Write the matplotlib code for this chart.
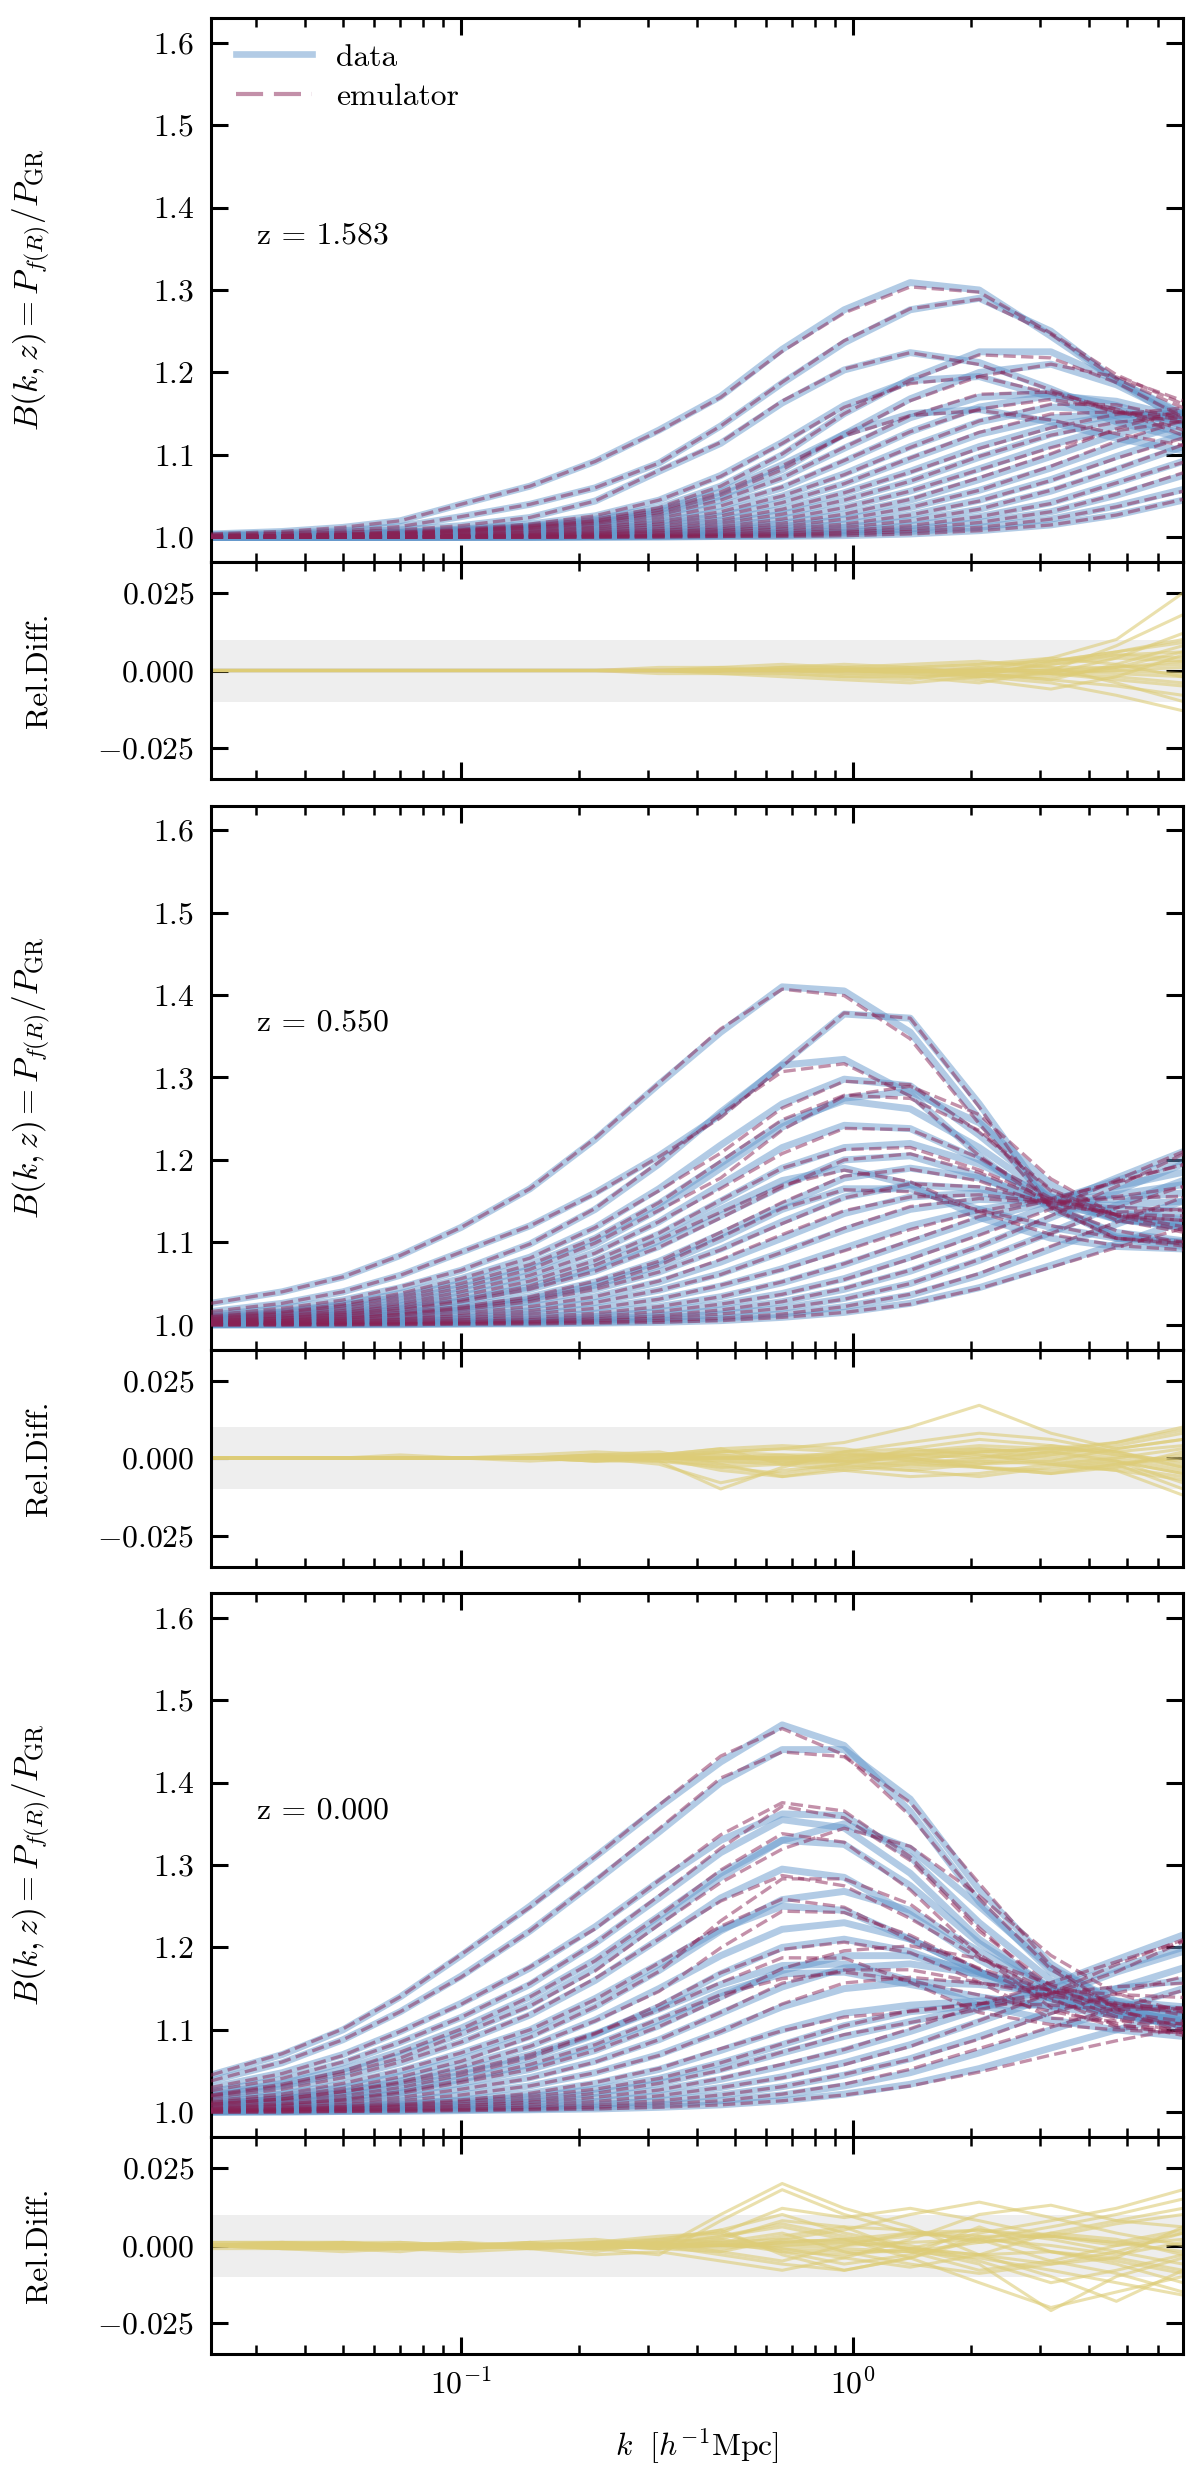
import numpy as np
import matplotlib
matplotlib.use('Agg')
import matplotlib.pyplot as plt
from matplotlib.lines import Line2D
from matplotlib.ticker import FixedLocator, FuncFormatter, NullLocator, NullFormatter, LogLocator

# ---------------- data ----------------
k = [0.023, 0.035, 0.05, 0.07, 0.1, 0.15, 0.22, 0.32, 0.46, 0.66, 0.95, 1.4, 2.1, 3.2, 4.7, 6.95]

redshift_labels = ['z = 1.583', 'z = 0.550', 'z = 0.000']

boost_z1583 = [
    [1.004, 1.007, 1.012, 1.020, 1.040, 1.062, 1.092, 1.130, 1.171, 1.228, 1.276, 1.309, 1.300, 1.244, 1.190, 1.150],
    [1.003, 1.005, 1.008, 1.013, 1.025, 1.040, 1.060, 1.090, 1.135, 1.187, 1.236, 1.276, 1.290, 1.250, 1.190, 1.148],
    [1.002, 1.004, 1.006, 1.009, 1.014, 1.024, 1.044, 1.080, 1.114, 1.163, 1.203, 1.224, 1.212, 1.180, 1.147, 1.126],
    [1.001, 1.002, 1.004, 1.006, 1.009, 1.014, 1.022, 1.036, 1.062, 1.100, 1.150, 1.192, 1.225, 1.225, 1.190, 1.140],
    [1.001, 1.002, 1.003, 1.005, 1.008, 1.012, 1.018, 1.030, 1.050, 1.082, 1.125, 1.168, 1.200, 1.210, 1.185, 1.145],
    [1.001, 1.002, 1.004, 1.006, 1.010, 1.016, 1.026, 1.045, 1.075, 1.115, 1.160, 1.190, 1.195, 1.170, 1.140, 1.120],
    [1.001, 1.002, 1.003, 1.004, 1.007, 1.011, 1.017, 1.027, 1.045, 1.072, 1.108, 1.145, 1.170, 1.175, 1.160, 1.135],
    [1.001, 1.001, 1.002, 1.004, 1.006, 1.009, 1.014, 1.023, 1.038, 1.060, 1.092, 1.128, 1.158, 1.172, 1.165, 1.145],
    [1.000, 1.001, 1.002, 1.003, 1.005, 1.008, 1.012, 1.019, 1.031, 1.050, 1.077, 1.110, 1.140, 1.158, 1.155, 1.140],
    [1.000, 1.001, 1.001, 1.002, 1.004, 1.006, 1.010, 1.016, 1.026, 1.042, 1.065, 1.095, 1.125, 1.145, 1.150, 1.145],
    [1.000, 1.000, 1.001, 1.002, 1.003, 1.005, 1.008, 1.013, 1.021, 1.034, 1.054, 1.080, 1.110, 1.135, 1.148, 1.150],
    [1.000, 1.000, 1.001, 1.001, 1.002, 1.004, 1.006, 1.010, 1.017, 1.028, 1.045, 1.068, 1.097, 1.125, 1.143, 1.152],
    [1.000, 1.000, 1.000, 1.001, 1.002, 1.003, 1.005, 1.008, 1.013, 1.022, 1.036, 1.056, 1.083, 1.112, 1.135, 1.150],
    [1.000, 1.000, 1.000, 1.001, 1.001, 1.002, 1.004, 1.006, 1.010, 1.017, 1.028, 1.045, 1.070, 1.098, 1.125, 1.145],
    [1.000, 1.000, 1.000, 1.000, 1.001, 1.002, 1.003, 1.005, 1.008, 1.013, 1.022, 1.036, 1.057, 1.084, 1.112, 1.138],
    [1.000, 1.000, 1.000, 1.000, 1.001, 1.001, 1.002, 1.003, 1.006, 1.010, 1.016, 1.027, 1.045, 1.070, 1.098, 1.125],
    [1.000, 1.000, 1.000, 1.000, 1.000, 1.001, 1.001, 1.002, 1.004, 1.007, 1.012, 1.020, 1.034, 1.056, 1.082, 1.110],
    [1.000, 1.000, 1.000, 1.000, 1.000, 1.000, 1.001, 1.002, 1.003, 1.005, 1.008, 1.014, 1.025, 1.042, 1.066, 1.092],
    [1.000, 1.000, 1.000, 1.000, 1.000, 1.000, 1.001, 1.001, 1.002, 1.003, 1.006, 1.010, 1.018, 1.031, 1.051, 1.075],
    [1.000, 1.000, 1.000, 1.000, 1.000, 1.000, 1.000, 1.001, 1.001, 1.002, 1.004, 1.007, 1.012, 1.022, 1.038, 1.058],
    [1.000, 1.000, 1.000, 1.000, 1.000, 1.000, 1.000, 1.000, 1.001, 1.001, 1.002, 1.004, 1.008, 1.015, 1.027, 1.045],
    [1.001, 1.002, 1.003, 1.005, 1.008, 1.013, 1.020, 1.033, 1.055, 1.088, 1.125, 1.150, 1.155, 1.140, 1.120, 1.105],
]

reldiff_z1583_permille = [
    [0, 0, 0, 0, 0, 0, 0, -1, -1, -2, -3, -4, -2, 3, 6, 10],
    [0, 0, 0, 0, 0, 0, 0, 0, 0, 1, 2, 1, -1, -3, 2, 8],
    [0, 0, 0, 0, 0, 0, 0, 1, 1, 2, 1, 0, -2, -1, 4, 12],
    [0, 0, 0, 0, 0, 0, 0, 0, 0, 1, 0, -1, -3, -6, -2, 5],
    [0, 0, 0, 0, 0, 0, 0, 0, 1, 0, -1, -2, -4, 0, 8, 18],
    [0, 0, 0, 0, 0, 0, 0, 0, -1, -1, -2, -3, 0, 4, 10, 25],
    [0, 0, 0, 0, 0, 0, 0, 0, 0, 0, 1, 2, 3, 1, -4, -10],
    [0, 0, 0, 0, 0, 0, 0, 0, 0, 1, 1, 0, -2, -4, -8, -13],
    [0, 0, 0, 0, 0, 0, 0, 0, 0, 0, -1, -1, 1, 3, 5, 4],
    [0, 0, 0, 0, 0, 0, 0, 0, 0, 0, 0, 1, 2, 4, 2, -2],
    [0, 0, 0, 0, 0, 0, 0, 0, 0, 0, 0, -1, -2, -2, 1, 6],
    [0, 0, 0, 0, 0, 0, 0, 0, 0, 0, 0, 0, 1, -1, -3, -5],
    [0, 0, 0, 0, 0, 0, 0, 0, 0, 0, 0, 0, -1, -3, -5, -8],
    [0, 0, 0, 0, 0, 0, 0, 0, 0, 0, 0, 1, 2, 3, 6, 9],
    [0, 0, 0, 0, 0, 0, 0, 0, 0, 0, 0, 0, 0, 2, 4, 3],
    [0, 0, 0, 0, 0, 0, 0, 0, 0, 0, 0, 0, -1, -1, -2, -4],
    [0, 0, 0, 0, 0, 0, 0, 0, 0, 0, 0, 0, 0, 1, 1, 2],
    [0, 0, 0, 0, 0, 0, 0, 0, 0, 0, 0, 0, 0, -1, 0, -1],
    [0, 0, 0, 0, 0, 0, 0, 0, 0, 0, 0, 0, 0, 0, 1, 3],
    [0, 0, 0, 0, 0, 0, 0, 0, 0, 0, 0, 0, 0, 0, -1, -2],
    [0, 0, 0, 0, 0, 0, 0, 0, 0, 0, 0, 0, 0, 0, 0, 1],
    [0, 0, 0, 0, 0, 0, 0, 0, 0, -1, -2, -2, -1, 2, 5, 6],
]

boost_z0550 = [
    [1.026, 1.040, 1.058, 1.084, 1.118, 1.165, 1.225, 1.292, 1.355, 1.410, 1.405, 1.355, 1.250, 1.145, 1.105, 1.095],
    [1.016, 1.026, 1.040, 1.060, 1.088, 1.120, 1.160, 1.205, 1.255, 1.316, 1.377, 1.372, 1.268, 1.147, 1.107, 1.100],
    [1.012, 1.020, 1.030, 1.045, 1.066, 1.098, 1.140, 1.195, 1.258, 1.315, 1.322, 1.280, 1.205, 1.140, 1.112, 1.102],
    [1.010, 1.016, 1.025, 1.038, 1.056, 1.082, 1.118, 1.165, 1.218, 1.268, 1.298, 1.290, 1.230, 1.160, 1.128, 1.118],
    [1.008, 1.013, 1.020, 1.030, 1.045, 1.067, 1.098, 1.140, 1.190, 1.240, 1.275, 1.283, 1.245, 1.170, 1.130, 1.118],
    [1.009, 1.015, 1.023, 1.034, 1.050, 1.073, 1.105, 1.147, 1.196, 1.245, 1.272, 1.262, 1.215, 1.155, 1.128, 1.120],
    [1.007, 1.011, 1.017, 1.026, 1.040, 1.060, 1.088, 1.125, 1.170, 1.215, 1.242, 1.238, 1.200, 1.150, 1.128, 1.122],
    [1.006, 1.010, 1.015, 1.023, 1.035, 1.053, 1.078, 1.110, 1.150, 1.190, 1.215, 1.220, 1.195, 1.155, 1.135, 1.128],
    [1.005, 1.008, 1.012, 1.018, 1.028, 1.043, 1.065, 1.095, 1.132, 1.168, 1.200, 1.205, 1.180, 1.145, 1.132, 1.130],
    [1.004, 1.006, 1.010, 1.015, 1.022, 1.034, 1.052, 1.077, 1.110, 1.145, 1.178, 1.190, 1.178, 1.150, 1.140, 1.138],
    [1.003, 1.005, 1.008, 1.012, 1.018, 1.028, 1.043, 1.064, 1.092, 1.125, 1.155, 1.170, 1.165, 1.148, 1.145, 1.150],
    [1.002, 1.004, 1.006, 1.009, 1.014, 1.022, 1.034, 1.052, 1.076, 1.105, 1.135, 1.155, 1.160, 1.150, 1.152, 1.160],
    [1.002, 1.003, 1.005, 1.007, 1.011, 1.017, 1.027, 1.042, 1.062, 1.088, 1.115, 1.140, 1.152, 1.150, 1.158, 1.170],
    [1.001, 1.002, 1.004, 1.006, 1.008, 1.013, 1.020, 1.031, 1.047, 1.068, 1.093, 1.120, 1.140, 1.152, 1.168, 1.185],
    [1.001, 1.002, 1.003, 1.004, 1.006, 1.009, 1.014, 1.022, 1.034, 1.051, 1.073, 1.100, 1.128, 1.150, 1.175, 1.200],
    [1.001, 1.001, 1.002, 1.003, 1.004, 1.006, 1.010, 1.016, 1.025, 1.038, 1.056, 1.082, 1.112, 1.145, 1.178, 1.210],
    [1.000, 1.001, 1.001, 1.002, 1.003, 1.004, 1.007, 1.011, 1.018, 1.028, 1.043, 1.065, 1.095, 1.130, 1.162, 1.195],
    [1.000, 1.000, 1.001, 1.001, 1.002, 1.003, 1.005, 1.008, 1.013, 1.020, 1.032, 1.050, 1.078, 1.112, 1.145, 1.175],
    [1.000, 1.000, 1.000, 1.001, 1.001, 1.002, 1.003, 1.005, 1.008, 1.013, 1.022, 1.036, 1.060, 1.092, 1.122, 1.150],
    [1.000, 1.000, 1.000, 1.000, 1.001, 1.001, 1.002, 1.003, 1.005, 1.009, 1.015, 1.026, 1.045, 1.072, 1.098, 1.125],
    [1.005, 1.008, 1.013, 1.020, 1.030, 1.046, 1.070, 1.102, 1.140, 1.175, 1.190, 1.170, 1.130, 1.105, 1.095, 1.092],
    [1.003, 1.005, 1.008, 1.013, 1.020, 1.031, 1.048, 1.072, 1.104, 1.140, 1.165, 1.165, 1.140, 1.118, 1.105, 1.100],
]

reldiff_z0550_permille = [
    [0, 0, 0, 0, 0, 0, 1, 1, 3, -2, -4, -6, -5, -2, 0, 3],
    [0, 0, 0, 0, 0, 0, -1, -1, -3, -2, 1, 0, -3, -5, -2, 1],
    [0, 0, 0, 1, 0, 0, 1, 2, -2, -6, -4, -2, 0, 4, 2, -2],
    [0, 0, 0, 0, 0, -1, 0, -2, -8, -4, -2, 1, 3, 2, -1, -5],
    [0, 0, 0, 0, 0, 0, 1, -1, -10, -3, 2, 5, 8, 6, 2, -3],
    [0, 0, 0, 0, 0, 0, 0, 1, 2, 3, 5, 10, 17, 8, 3, 6],
    [0, 0, 0, 0, 0, 0, -1, 0, -4, -6, -3, -1, 2, 3, 5, 9],
    [0, 0, 0, 0, 0, 0, 0, 1, 1, 0, -2, -4, -6, -3, -1, -8],
    [0, 0, 0, 0, 0, 0, 0, -1, -2, -1, 0, 2, 4, 3, 1, -3],
    [0, 0, 0, 0, 0, 0, 1, 0, 2, 3, 2, -1, -3, -5, -3, 2],
    [0, 0, 0, 0, 0, 0, 0, 0, -1, -2, -1, 1, 2, 0, -2, -10],
    [0, 0, 0, 0, 0, 0, 0, 1, 3, 4, 3, 0, -2, -1, 3, 6],
    [0, 0, 0, 0, 0, 0, 0, 0, -1, 0, 2, 3, 1, -2, -4, -12],
    [0, 0, 0, 0, 0, 0, 0, 0, 1, -1, -3, -4, -2, 1, 4, 8],
    [0, 0, 0, 0, 0, 0, 0, 0, 0, 1, 1, 2, 3, 1, -1, -5],
    [0, 0, 0, 0, 0, 0, 0, 0, 0, -1, -1, -2, -3, -4, -2, 0],
    [0, 0, 0, 0, 0, 0, 0, 0, 0, 0, 1, 1, 0, 2, 5, 10],
    [0, 0, 0, 0, 0, 0, 0, 0, 0, 0, -1, 0, 1, -1, -3, -6],
    [0, 0, 0, 0, 0, 0, 0, 0, 0, 0, 0, 1, 2, 3, 2, 4],
    [0, 0, 0, 0, 0, 0, 0, 0, 0, 0, 0, -1, -1, -2, -4, -7],
    [0, 0, 0, 0, 0, 1, 2, 1, -3, -5, -2, 3, 6, 4, 1, -1],
    [0, 0, 0, 0, 0, 0, -1, 0, 2, 1, -1, -3, -1, 2, 0, -4],
]

boost_z0000 = [
    [1.045, 1.070, 1.100, 1.140, 1.190, 1.250, 1.310, 1.370, 1.425, 1.470, 1.445, 1.365, 1.255, 1.170, 1.125, 1.100],
    [1.038, 1.060, 1.088, 1.122, 1.165, 1.220, 1.280, 1.340, 1.400, 1.440, 1.440, 1.380, 1.270, 1.180, 1.130, 1.105],
    [1.030, 1.048, 1.070, 1.098, 1.132, 1.175, 1.225, 1.280, 1.330, 1.362, 1.360, 1.310, 1.230, 1.160, 1.125, 1.110],
    [1.025, 1.040, 1.060, 1.085, 1.115, 1.155, 1.205, 1.260, 1.315, 1.355, 1.345, 1.290, 1.210, 1.150, 1.120, 1.105],
    [1.020, 1.032, 1.048, 1.068, 1.095, 1.130, 1.175, 1.230, 1.285, 1.330, 1.350, 1.320, 1.250, 1.175, 1.135, 1.115],
    [1.022, 1.035, 1.052, 1.074, 1.102, 1.140, 1.185, 1.238, 1.290, 1.330, 1.325, 1.275, 1.205, 1.150, 1.120, 1.108],
    [1.018, 1.028, 1.042, 1.060, 1.085, 1.118, 1.160, 1.210, 1.260, 1.295, 1.285, 1.240, 1.185, 1.140, 1.118, 1.105],
    [1.012, 1.020, 1.030, 1.044, 1.064, 1.092, 1.128, 1.172, 1.220, 1.258, 1.268, 1.245, 1.195, 1.150, 1.125, 1.110],
    [1.014, 1.022, 1.034, 1.050, 1.072, 1.100, 1.138, 1.180, 1.222, 1.250, 1.245, 1.210, 1.170, 1.138, 1.118, 1.106],
    [1.010, 1.016, 1.025, 1.038, 1.056, 1.080, 1.112, 1.150, 1.190, 1.222, 1.230, 1.210, 1.170, 1.138, 1.120, 1.110],
    [1.008, 1.013, 1.020, 1.030, 1.045, 1.066, 1.094, 1.128, 1.168, 1.200, 1.210, 1.195, 1.165, 1.138, 1.122, 1.112],
    [1.006, 1.010, 1.015, 1.023, 1.035, 1.052, 1.075, 1.105, 1.140, 1.172, 1.190, 1.190, 1.170, 1.145, 1.128, 1.118],
    [1.005, 1.008, 1.012, 1.018, 1.028, 1.042, 1.062, 1.088, 1.120, 1.152, 1.175, 1.180, 1.168, 1.148, 1.132, 1.122],
    [1.007, 1.011, 1.017, 1.026, 1.040, 1.058, 1.082, 1.112, 1.145, 1.168, 1.170, 1.155, 1.140, 1.128, 1.118, 1.110],
    [1.004, 1.006, 1.009, 1.014, 1.021, 1.032, 1.048, 1.070, 1.098, 1.128, 1.150, 1.158, 1.155, 1.145, 1.135, 1.128],
    [1.003, 1.005, 1.007, 1.010, 1.015, 1.023, 1.035, 1.052, 1.075, 1.100, 1.120, 1.130, 1.135, 1.140, 1.150, 1.160],
    [1.002, 1.003, 1.005, 1.007, 1.010, 1.015, 1.023, 1.035, 1.052, 1.072, 1.092, 1.110, 1.128, 1.150, 1.175, 1.200],
    [1.002, 1.003, 1.004, 1.006, 1.008, 1.012, 1.018, 1.027, 1.040, 1.056, 1.075, 1.098, 1.125, 1.155, 1.185, 1.215],
    [1.001, 1.002, 1.003, 1.004, 1.006, 1.009, 1.013, 1.020, 1.030, 1.043, 1.060, 1.082, 1.110, 1.140, 1.170, 1.195],
    [1.001, 1.001, 1.002, 1.003, 1.004, 1.006, 1.009, 1.014, 1.021, 1.031, 1.045, 1.065, 1.092, 1.122, 1.150, 1.175],
    [1.000, 1.001, 1.001, 1.002, 1.003, 1.004, 1.006, 1.009, 1.014, 1.021, 1.032, 1.048, 1.072, 1.100, 1.125, 1.150],
    [1.000, 1.000, 1.001, 1.001, 1.002, 1.003, 1.004, 1.006, 1.009, 1.014, 1.022, 1.034, 1.053, 1.078, 1.100, 1.120],
    [1.010, 1.016, 1.024, 1.035, 1.050, 1.070, 1.095, 1.125, 1.155, 1.178, 1.180, 1.160, 1.130, 1.112, 1.100, 1.092],
    [1.003, 1.004, 1.006, 1.009, 1.013, 1.019, 1.028, 1.041, 1.060, 1.082, 1.105, 1.122, 1.130, 1.130, 1.128, 1.125],
]

reldiff_z0000_permille = [
    [0, 1, 1, 0, 1, -1, 0, 2, 5, -3, -8, -4, 3, 3, 0, 2],
    [0, 1, 0, 0, -1, 0, 1, 3, 4, -2, -6, -3, 6, -2, -4, -8],
    [0, -1, -1, 0, -1, 1, -2, 1, 5, 10, 4, 0, -5, -12, -8, -3],
    [1, 1, 1, 0, 0, 1, 0, 2, 4, 12, 9, 12, 8, 3, 1, 5],
    [0, 0, -1, -2, 0, -1, -3, -2, -5, -8, -4, 2, 10, 13, 8, 6],
    [-1, -1, -2, -1, -1, 0, -1, 0, 3, 6, 2, -4, -12, -20, -15, -10],
    [0, 0, 0, 1, 0, 1, 2, 0, -3, -6, -8, -4, 2, 6, 10, 15],
    [0, -1, -1, -1, -2, -1, 0, -1, 10, 20, 12, 6, -3, -10, -18, -8],
    [0, 0, 1, 1, 0, 0, -1, 1, 3, 7, 3, -1, 4, 8, 12, 18],
    [0, 0, 0, -1, -1, 0, -1, -3, 8, 18, 10, 4, 3, -2, -6, -12],
    [1, 1, 0, 0, 0, 0, 1, 2, 1, -2, -3, -1, -6, -21, -10, -4],
    [0, 0, 0, 0, 1, 0, 0, -1, -2, 2, 5, 10, 14, 9, 4, 0],
    [0, 0, 0, 0, 0, -1, -1, 0, 1, 4, -2, -6, -9, -6, -2, 4],
    [0, -1, -1, -1, -1, 0, 0, 1, -2, -5, 0, 4, 2, -5, -9, -15],
    [0, 0, 0, 0, 0, 0, 0, -1, 0, 3, 6, 5, 1, 3, 7, 10],
    [0, 0, 0, 0, 0, 0, 1, 1, 2, -1, -4, -7, -3, 4, 2, -3],
    [0, 0, 0, 0, 0, 0, 0, 0, -1, 1, 2, -1, -3, -6, -4, 6],
    [0, 0, 0, 0, 0, 0, 0, 0, 1, 2, 1, 3, 5, 2, -2, -6],
    [0, 0, 0, 0, 0, 0, 0, 0, 0, -1, -2, -2, 1, 4, 8, 12],
    [0, 0, 0, 0, 0, 0, 0, 0, 0, 0, 1, -1, -3, -2, -5, -9],
    [0, 0, 0, 0, 0, 0, 0, 1, 0, 1, 2, 4, 5, 3, 1, -2],
    [0, 0, 0, 0, 0, 0, 0, 0, 0, 0, -1, -2, -4, -8, -12, -16],
    [0, 0, 1, 0, -1, 0, 1, -1, 2, 8, 6, -2, -8, -5, 0, 4],
    [0, 0, 0, 0, 0, 0, 0, 0, 0, 1, 0, 1, 2, 0, -3, 1],
]

main_yticks = [1.0, 1.1, 1.2, 1.3, 1.4, 1.5, 1.6]
ratio_yticks = [-0.025, 0.0, 0.025]
tolerance_band = 0.01

# ---------------- style ----------------
plt.rcParams.update({
    'font.family': 'serif',
    'font.serif': ['cmr10', 'DejaVu Serif'],
    'mathtext.fontset': 'cm',
    'axes.formatter.use_mathtext': True,
    'axes.unicode_minus': True,
    'font.size': 11.4,
    'axes.linewidth': 1.1,
})

DATA_C = '#6699CC'
EMU_C = '#882255'
REL_C = '#DDCC77'

fig = plt.figure(figsize=(6.0, 12.385), dpi=200)
FH = 2477.0
left = 210.7 / 1200.0
width = (1183.0 - 210.7) / 1200.0
main_h = 544.0 / FH
ratio_h = 217.0 / FH
group_tops = [18.0, 805.5, 1593.0]

boosts = [boost_z1583, boost_z0550, boost_z0000]
reldiffs = [reldiff_z1583_permille, reldiff_z0550_permille, reldiff_z0000_permille]

kk = np.array(k)


def style_axis(ax):
    ax.set_xscale('log')
    ax.set_xlim(k[0], k[-1])
    ax.tick_params(which='both', direction='in', top=True, right=True)
    ax.tick_params(which='major', length=6.1, width=1.1, pad=6)
    ax.tick_params(which='minor', length=3.3, width=0.9)
    ax.tick_params(axis='x', which='major', pad=5)
    ax.xaxis.set_major_locator(FixedLocator([0.1, 1.0]))
    ax.xaxis.set_minor_locator(LogLocator(base=10, subs=np.arange(2, 10) * 1.0, numticks=20))
    ax.xaxis.set_minor_formatter(NullFormatter())
    ax.yaxis.set_minor_locator(NullLocator())


for i in range(3):
    top = group_tops[i]
    ax = fig.add_axes([left, 1 - (top + 544.0) / FH, width, main_h])
    axr = fig.add_axes([left, 1 - (top + 544.0 + 217.0) / FH, width, ratio_h])
    for a in (ax, axr):
        style_axis(a)

    B = np.array(boosts[i])
    R = np.array(reldiffs[i]) / 1000.0
    E = B * (1.0 + R)

    for row in B:
        ax.plot(kk, row, color=DATA_C, alpha=0.5, lw=2.5, solid_capstyle='butt',
                solid_joinstyle='round', zorder=2)
    for row in E:
        ax.plot(kk, row, color=EMU_C, alpha=0.5, lw=1.2, ls=(0, (3.7, 1.6)), zorder=3)

    ax.set_ylim(0.97, 1.63)
    ax.yaxis.set_major_locator(FixedLocator(main_yticks))
    ax.yaxis.set_major_formatter(FuncFormatter(lambda v, p: r'$%.1f$' % v))
    ax.xaxis.set_major_formatter(NullFormatter())
    ax.set_ylabel(r'$B(k,z) = P_{f(R)}/P_{\rm GR}$', fontsize=12)
    ax.yaxis.set_label_coords(-0.162, 0.5)
    ax.text(0.0476, 0.586, redshift_labels[i], transform=ax.transAxes,
            ha='left', va='baseline')

    axr.axhspan(-tolerance_band, tolerance_band, color='#eeeeee', lw=0, zorder=0)
    for row in R:
        axr.plot(kk, row, color=REL_C, alpha=0.6, lw=1.1, zorder=2)
    axr.set_ylim(-0.035, 0.035)
    axr.yaxis.set_major_locator(FixedLocator(ratio_yticks))
    axr.yaxis.set_major_formatter(FuncFormatter(lambda v, p: r'$%.3f$' % v))
    axr.set_ylabel('Rel.Diff.')
    axr.yaxis.set_label_coords(-0.162, 0.5)
    if i < 2:
        axr.xaxis.set_major_formatter(NullFormatter())
    else:
        axr.xaxis.set_major_formatter(FuncFormatter(
            lambda v, p: r'$10^{%d}$' % int(round(np.log10(v)))))
        axr.set_xlabel(r'$k\ \ [h^{-1}{\rm Mpc}]$', labelpad=10)

    if i == 0:
        handles = [Line2D([], [], color=DATA_C, alpha=0.5, lw=2.4),
                   Line2D([], [], color=EMU_C, alpha=0.5, lw=1.5, ls=(0, (6.5, 2.6)))]
        ax.legend(handles, ['data', 'emulator'], loc='upper left',
                  bbox_to_anchor=(0.0, 1.0), frameon=False, handlelength=2.4,
                  handletextpad=0.75, labelspacing=0.35, borderpad=0.5,
                  borderaxespad=0.3)

fig.savefig('out.png', dpi=200)
